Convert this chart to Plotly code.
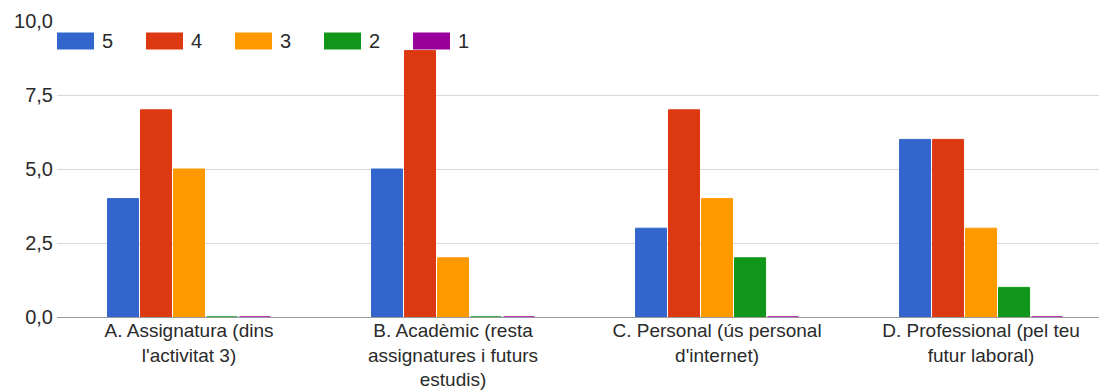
import plotly.graph_objects as go

categories = [
    "A. Assignatura (dins<br>l'activitat 3)",
    "B. Acadèmic (resta<br>assignatures i futurs<br>estudis)",
    "C. Personal (ús personal<br>d'internet)",
    "D. Professional (pel teu<br>futur laboral)",
]
series_names = ["5", "4", "3", "2", "1"]
values_5 = [4, 5, 3, 6]
values_4 = [7, 9, 7, 6]
values_3 = [5, 2, 4, 3]
values_2 = [0, 0, 2, 1]
values_1 = [0, 0, 0, 0]
y_ticks = [0, 2.5, 5, 7.5, 10]
colors = ["#3366cc", "#dc3912", "#ff9900", "#109618", "#990099"]

all_values = [values_5, values_4, values_3, values_2, values_1]

FONT = "Liberation Sans, Arial, sans-serif"
FS = 20
TXT = "#2a2a2a"
fig = go.Figure()
for name, vals, col in zip(series_names, all_values, colors):
    fig.add_trace(go.Bar(
        x=categories, y=vals, name=name,
        marker=dict(color=col, line=dict(color=col, width=1)),
    ))

# custom legend (wide swatches like the original)
plot_w, plot_h = 1050.0, 296.0
shapes, annotations = [], []
for i, (name, col) in enumerate(zip(series_names, colors)):
    x0 = 89 * i
    shapes.append(dict(type="rect", xref="paper", yref="paper",
                       x0=x0 / plot_w, x1=(x0 + 37) / plot_w,
                       y0=(296 - 28.5) / plot_h, y1=(296 - 11.5) / plot_h,
                       fillcolor=col, line=dict(width=0), layer="above"))
    annotations.append(dict(xref="paper", yref="paper", x=(x0 + 43) / plot_w,
                            y=(296 - 20) / plot_h, xanchor="left", yanchor="middle",
                            text=name, showarrow=False,
                            font=dict(family=FONT, size=FS, color=TXT)))

fig.update_layout(
    width=1099, height=383,
    margin=dict(l=49, r=0, t=13, b=74, pad=0, autoexpand=False),
    paper_bgcolor="white", plot_bgcolor="white",
    font=dict(family=FONT, size=FS, color=TXT),
    barmode="group", bargap=0.375, bargroupgap=2 / 33,
    separators=",.",
    showlegend=False,
    shapes=shapes, annotations=annotations,
    xaxis=dict(range=[-0.5, 3.477], showgrid=False, showline=False, ticks="",
               automargin=False, tickfont=dict(size=19, color=TXT)),
    yaxis=dict(range=[0, 10], tickvals=y_ticks, tickformat=".1f",
               showgrid=True, gridcolor="#d9d9d9", gridwidth=1,
               zeroline=True, zerolinecolor="#999999", zerolinewidth=1,
               ticks="", ticklabelstandoff=3, automargin=False,
               tickfont=dict(size=FS, color=TXT), showline=False),
)

fig.write_html("out.html")
